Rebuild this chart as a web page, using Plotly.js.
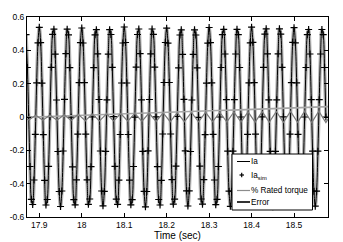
<!DOCTYPE html>
<html>
<head>
<meta charset="utf-8">
<script src="https://cdn.plot.ly/plotly-3.0.1.min.js"></script>
<style>html,body{margin:0;padding:0;background:#fff;}#chart{width:343px;height:242px;}</style>
</head>
<body>
<div id="chart"></div>
<script>
// Phase current samples (A); uniform sampling
var iaStart = 17.86875;   // s
var iaStep = 0.003125;    // s
var iaValues = [
  0.494, 0.297, 0.000, -0.297, -0.494, -0.525, -0.378, -0.104, 0.205, 0.445,
  0.538, 0.446, 0.203, -0.106, -0.380, -0.528, -0.495, -0.296, 0.002, 0.298, 0.496, 0.527, 0.377, 0.102, -0.207, -0.447, -0.537, -0.444, -0.204, 0.106, 0.380, 0.527, 0.493, 0.296, -0.001, -0.299, -0.496, -0.527, -0.377, -0.103, 0.206, 0.446,
  0.534, 0.444, 0.206, -0.103, -0.377, -0.524, -0.492, -0.298, 0.001, 0.296, 0.493, 0.524, 0.379, 0.105, -0.204, -0.444, -0.533, -0.446, -0.206, 0.103, 0.377, 0.524, 0.495, 0.298, 0.002, -0.296, -0.493, -0.524, -0.379, -0.105, 0.204, 0.444,
  0.540, 0.447, 0.204, -0.105, -0.379, -0.527, -0.496, -0.297, -0.001, 0.299, 0.495, 0.528, 0.380, 0.103, -0.206, -0.446, -0.539, -0.447, -0.203, 0.105, 0.379, 0.528, 0.496, 0.299, 0.001, -0.298, -0.495, -0.528, -0.380, -0.102, 0.207, 0.447,
  0.533, 0.443, 0.207, -0.102, -0.376, -0.523, -0.493, -0.295, 0.003, 0.295, 0.492, 0.523, 0.376, 0.106, -0.203, -0.443, -0.534, -0.443, -0.207, 0.102, 0.376, 0.523, 0.492, 0.295, -0.002, -0.295, -0.492, -0.523, -0.376, -0.106, 0.203, 0.443,
  0.537, 0.446, 0.205, -0.104, -0.378, -0.526, -0.494, -0.297, 0.000, 0.297, 0.494, 0.526, 0.378, 0.104, -0.205, -0.445, -0.536, -0.445, -0.205, 0.104, 0.378, 0.526, 0.494, 0.297, 0.000, -0.297, -0.494, -0.526, -0.378, -0.104, 0.205, 0.445,
  0.539, 0.448, 0.206, -0.103, -0.379, -0.529, -0.497, -0.298, 0.001, 0.298, 0.497, 0.529, 0.379, 0.103, -0.206, -0.448, -0.538, -0.448, -0.206, 0.103, 0.379, 0.529, 0.497, 0.298, 0.001, -0.298, -0.497, -0.529, -0.379, -0.103, 0.206, 0.448,
  0.536, 0.445, 0.205, -0.104, -0.378, -0.525, -0.494, -0.297, 0.000, 0.297, 0.494, 0.525, 0.378, 0.104, -0.205, -0.445, -0.535, -0.445, -0.205, 0.104, 0.378, 0.525, 0.494, 0.297, 0.000
];
// Simulated current samples (markers), same instants
var iaSimValues = iaValues;

// % rated torque (slow ramp)
var torqueStart = 17.87;
var torqueStep = 0.05;
var torqueValues = [-0.002, 0.003, 0.008, 0.012, 0.017, 0.021, 0.026, 0.030, 0.034, 0.039, 0.043, 0.048, 0.052, 0.057, 0.061, 0.066];

// Error, alternating crest / trough instants
var errorStart = 17.858333;
var errorStep = 0.0166667;
var errorValues = [
  0.008, -0.018, 0.010, -0.019, 0.012, -0.020, 0.014, -0.021, 0.016, -0.022,
  0.018, -0.023, 0.019, -0.024, 0.021, -0.025, 0.022, -0.026, 0.024, -0.027,
  0.025, -0.028, 0.026, -0.028, 0.027, -0.029, 0.028, -0.029, 0.029, -0.030,
  0.030, -0.030, 0.031, -0.031, 0.032, -0.031, 0.033, -0.032, 0.034, -0.032,
  0.035, -0.033, 0.035, -0.033, 0.036
];

var seriesNames = ['Ia', 'Ia<sub>sim</sub>', '% Rated torque', 'Error'];
var xTicks = [17.9, 18, 18.1, 18.2, 18.3, 18.4, 18.5];
var xTickLabels = ['17.9', '18', '18.1', '18.2', '18.3', '18.4', '18.5'];
var yTicks = [-0.6, -0.4, -0.2, 0, 0.2, 0.4, 0.6];
var yTickLabels = ['-0.6', '-0.4', '-0.2', '0', '0.2', '0.4', '0.6'];

var FONT = 'Liberation Sans, Arial, sans-serif';
var colBand = '#b4b4b4', colTorque = '#a6a6a6', colError = '#7a7a7a';

var traces = [
  {x0: iaStart, dx: iaStep, y: iaValues, type: 'scatter', mode: 'lines', showlegend: false, hoverinfo: 'skip',
   line: {color: colBand, width: 3.5, shape: 'spline'}},
  {x0: iaStart, dx: iaStep, y: iaValues, type: 'scatter', mode: 'lines', name: seriesNames[0], showlegend: false,
   line: {color: '#000', width: 1, shape: 'spline'}},
  {x0: iaStart, dx: iaStep, y: iaSimValues, type: 'scatter', mode: 'markers', name: seriesNames[1], showlegend: false,
   marker: {symbol: 'cross-thin', size: 5, color: '#000', line: {color: '#000', width: 1.2}}},
  {x0: torqueStart, dx: torqueStep, y: torqueValues, type: 'scatter', mode: 'lines', name: seriesNames[2], showlegend: false,
   line: {color: colTorque, width: 1.6}},
  {x0: errorStart, dx: errorStep, y: errorValues, type: 'scatter', mode: 'lines', name: seriesNames[3], showlegend: false,
   line: {color: colError, width: 1.2}}
];

var axisCommon = {
  showgrid: false, zeroline: false, showline: true, linecolor: '#000', linewidth: 1,
  mirror: 'allticks', ticks: 'inside', ticklen: 4, tickcolor: '#000', tickwidth: 1,
  tickfont: {family: FONT, size: 8.5, color: '#000'}
};

// legend box drawn in the plot area (pixel -> paper helpers)
var plotL = 27, plotW = 301, plotT = 17, plotH = 200;
function px(v) { return (v - plotL) / plotW; }
function py(v) { return (plotT + plotH - v) / plotH; }

var legendRows = [161.5, 175, 190.5, 202];
var shapes = [
  {type: 'rect', xref: 'paper', yref: 'paper', x0: px(232), x1: px(312.5), y0: py(210), y1: py(154),
   line: {color: '#000', width: 1}, fillcolor: '#fff', layer: 'above'},
  {type: 'line', xref: 'paper', yref: 'paper', x0: px(237), x1: px(250), y0: py(legendRows[0]), y1: py(legendRows[0]),
   line: {color: '#000', width: 1}, layer: 'above'},
  {type: 'line', xref: 'paper', yref: 'paper', x0: px(239.5), x1: px(244), y0: py(legendRows[1]), y1: py(legendRows[1]),
   line: {color: '#000', width: 1.2}, layer: 'above'},
  {type: 'line', xref: 'paper', yref: 'paper', x0: px(241.7), x1: px(241.7), y0: py(legendRows[1] - 2.3), y1: py(legendRows[1] + 2.3),
   line: {color: '#000', width: 1.2}, layer: 'above'},
  {type: 'line', xref: 'paper', yref: 'paper', x0: px(237), x1: px(250), y0: py(legendRows[2]), y1: py(legendRows[2]),
   line: {color: '#8c8c8c', width: 1.2}, layer: 'above'},
  {type: 'line', xref: 'paper', yref: 'paper', x0: px(237), x1: px(250), y0: py(legendRows[3]), y1: py(legendRows[3]),
   line: {color: '#000', width: 1.6}, layer: 'above'}
];
var annotations = seriesNames.map(function (name, i) {
  return {text: name, xref: 'paper', yref: 'paper', x: px(250.3), y: py(legendRows[i] + (i === 1 ? 1 : 0)),
          xanchor: 'left', yanchor: 'middle', showarrow: false, borderpad: 0,
          font: {family: FONT, size: 8.2, color: '#000'}};
});

var layout = {
  width: 343, height: 242,
  margin: {l: 27, r: 15, t: 17, b: 25, pad: 0},
  paper_bgcolor: '#fff', plot_bgcolor: '#fff',
  font: {family: FONT, color: '#000'},
  xaxis: Object.assign({}, axisCommon, {
    range: [17.871, 18.58], tickvals: xTicks, ticktext: xTickLabels,
    title: {text: 'Time (sec)', font: {family: FONT, size: 10, color: '#000'}, standoff: 1}
  }),
  yaxis: Object.assign({}, axisCommon, {
    range: [-0.6, 0.6], tickvals: yTicks, ticktext: yTickLabels
  }),
  shapes: shapes,
  annotations: annotations,
  showlegend: false
};

Plotly.newPlot('chart', traces, layout, {staticPlot: true, displayModeBar: false});
</script>
</body>
</html>
